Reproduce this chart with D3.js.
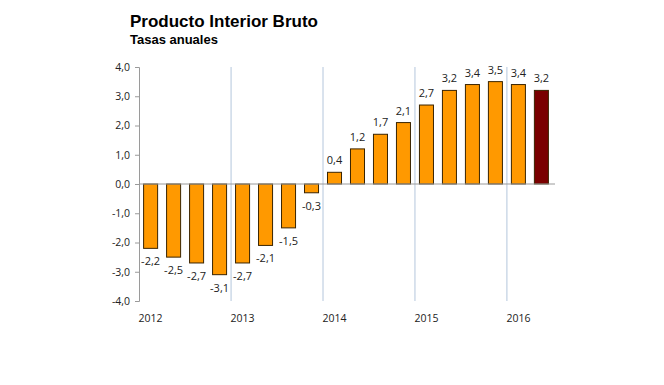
<!DOCTYPE html>
<html>
<head>
<meta charset="utf-8">
<script src="https://cdn.jsdelivr.net/npm/d3@7"></script>
<style>
  body { margin: 0; background: #fff; }
  text { font-family: "Open Sans", "Liberation Sans", sans-serif; }
</style>
</head>
<body>
<div id="chart"></div>
<script>
// data: PIB quarterly annual rates, 2012 Q1 .. 2016 Q2
var quarters = ["2012T1","2012T2","2012T3","2012T4","2013T1","2013T2","2013T3","2013T4",
  "2014T1","2014T2","2014T3","2014T4","2015T1","2015T2","2015T3","2015T4","2016T1","2016T2"];
var values = [-2.2,-2.5,-2.7,-3.1,-2.7,-2.1,-1.5,-0.3,0.4,1.2,1.7,2.1,2.7,3.2,3.4,3.5,3.4,3.2];
var years = ["2012","2013","2014","2015","2016"];
var yTicks = [-4,-3,-2,-1,0,1,2,3,4];

var W = 664, H = 385;
var plot = { left: 139, right: 553, top: 67, bottom: 301 };

var svg = d3.select("#chart").append("svg")
    .attr("width", W).attr("height", H);

var x = d3.scaleBand().domain(quarters).range([plot.left, plot.right]).paddingInner(0.39).paddingOuter(0.2);
var y = d3.scaleLinear().domain([-4, 4]).range([plot.bottom, plot.top]);
// comma decimals, plain hyphen for minus
var fmt = function(d) { return d3.format(".1f")(d).replace(".", ",").replace("\u2212", "-"); };

// title
svg.append("text").attr("x", 130).attr("y", 27)
    .style("font-family", "Liberation Sans, Arial, sans-serif")
    .style("font-weight", "bold").style("font-size", "17px")
    .text("Producto Interior Bruto");
svg.append("text").attr("x", 130).attr("y", 44)
    .style("font-family", "Liberation Sans, Arial, sans-serif")
    .style("font-weight", "bold").style("font-size", "13px")
    .text("Tasas anuales");

// year separators
var step = x.step();
years.forEach(function(yr, i) {
    var first = quarters[i * 4];
    if (i > 0) {
        var xs = x(first) - step * x.paddingInner() / 2;
        svg.append("line")
            .attr("x1", xs).attr("x2", xs)
            .attr("y1", plot.top).attr("y2", plot.bottom)
            .attr("stroke", "#b4c6dc").attr("stroke-width", 1);
    }
    svg.append("text")
        .attr("x", x(first) + x.bandwidth() / 2).attr("y", 322)
        .attr("text-anchor", "middle")
        .style("font-size", "10.5px").style("fill", "#222")
        .text(yr);
});

// y axis
var yAxis = svg.append("g")
    .attr("transform", "translate(" + plot.left + ",0)")
    .call(d3.axisLeft(y).tickValues(yTicks).tickSize(4).tickFormat(fmt));
yAxis.select(".domain").attr("stroke", "#9a9a9a");
yAxis.selectAll(".tick line").attr("stroke", "#9a9a9a");
yAxis.selectAll(".tick text").attr("x", -9)
    .style("font-size", "10.5px").style("fill", "#222")
    .style("font-family", "Open Sans, sans-serif");

// bars
svg.selectAll("rect.bar").data(values).enter().append("rect")
    .attr("class", "bar")
    .attr("x", function(d, i) { return x(quarters[i]); })
    .attr("width", x.bandwidth())
    .attr("y", function(d) { return d >= 0 ? y(d) : y(0); })
    .attr("height", function(d) { return Math.abs(y(d) - y(0)); })
    .attr("fill", function(d, i) { return i === values.length - 1 ? "#7a0000" : "#ff9900"; })
    .attr("stroke", "#3a2400").attr("stroke-width", 1);

// zero line
svg.append("line")
    .attr("x1", plot.left).attr("x2", plot.right + 2)
    .attr("y1", y(0)).attr("y2", y(0))
    .attr("stroke", "#9a9a9a").attr("stroke-width", 1);

// value labels
svg.selectAll("text.val").data(values).enter().append("text")
    .attr("class", "val")
    .attr("x", function(d, i) { return x(quarters[i]) + x.bandwidth() / 2; })
    .attr("y", function(d) { return d >= 0 ? y(d) - 8 : y(d) + 17; })
    .attr("text-anchor", "middle")
    .style("font-size", "11px").style("fill", "#222")
    .text(fmt);
</script>
</body>
</html>
